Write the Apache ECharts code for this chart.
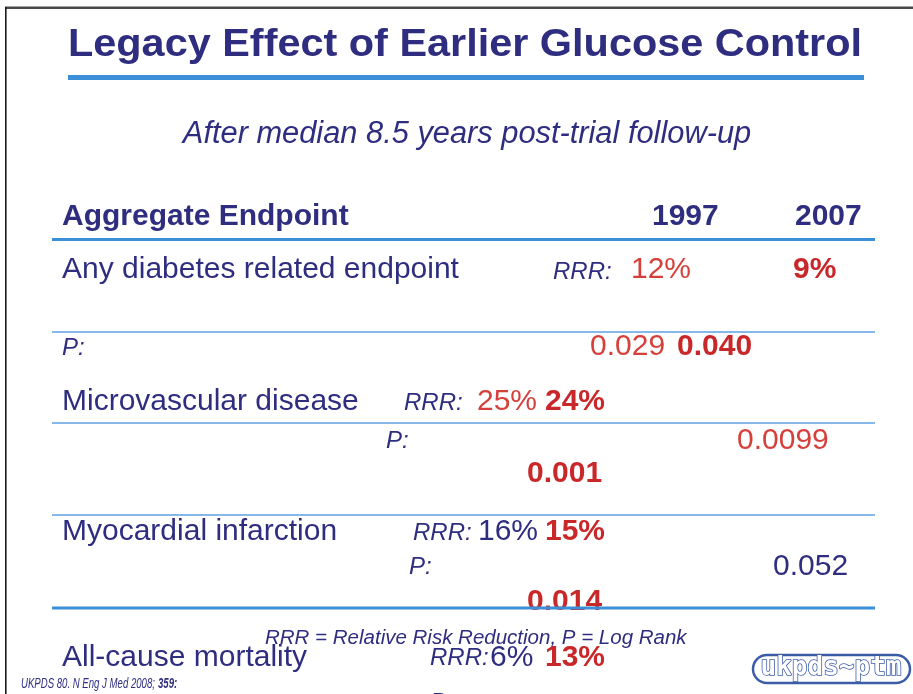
<!DOCTYPE html>
<html>
<head>
<meta charset="utf-8">
<style>
  html, body { margin: 0; padding: 0; background: #fff; }
  #chart { width: 913px; height: 694px; }
</style>
<script src="https://cdn.jsdelivr.net/npm/echarts@6/dist/echarts.min.js"></script>
</head>
<body>
<div id="chart"></div>
<script>
// ── Slide content ──
const title = 'Legacy Effect of Earlier Glucose Control';
const subtitle = 'After median 8.5 years post-trial follow-up';
const headers = ['Aggregate Endpoint', '1997', '2007'];
const endpoints = ['Any diabetes related endpoint', 'Microvascular disease', 'Myocardial infarction', 'All-cause mortality'];
const rrr1997 = ['12%', '25%', '16%', '6%'];
const rrr2007 = ['9%', '24%', '15%', '13%'];
const p1997 = ['0.029', '0.0099', '0.052'];
const p2007 = ['0.040', '0.001', '0.014'];
const footnote = 'RRR = Relative Risk Reduction, P = Log Rank';
const citation = 'UKPDS 80. N Eng J Med 2008; ';
const citationVol = '359:';
const logoText = 'ukpds~ptm';

// ── Layout (the slide's broken-flow positions) ──
// per endpoint row: name, RRR label, 1997 value, 2007 value  -> [x, y]
const rowLayout = [
  { name: [62, 269], rrr: [553, 271], v97: [631, 269], v07: [793, 269] },
  { name: [62, 401], rrr: [404, 402], v97: [477, 401], v07: [545, 401] },
  { name: [62, 531], rrr: [413, 532], v97: [478, 531], v07: [545, 531] },
  { name: [62, 657], rrr: [430, 657], v97: [490, 657], v07: [545, 657] },
];
const pLayout = [
  { lab: [62, 347], p97: [590, 346], p07: [677, 346] },
  { lab: [386, 440], p97: [737, 440], p07: [527, 473] },
  { lab: [409, 566], p97: [773, 566], p07: [527, 601] },
  { lab: [430, 702] },
];
const v97Color = ['#d6403a', '#d6403a', '#2e2d7f', '#2e2d7f'];
const p97Color = ['#d6403a', '#d6403a', '#2e2d7f'];
const ruleY = [[239.5, 3], [332, 1.5], [423, 1.5], [515, 1.5], [608, 3]];

const NAVY = '#2e2d7f';
const RED = '#c9282a';
const FONT = '"Liberation Sans", Arial, sans-serif';

function txt(text, x, y, font, fill, opts) {
  return Object.assign({
    type: 'text', x: x, y: y, z: 10,
    style: { text: text, font: font, fill: fill, align: 'left', verticalAlign: 'middle' },
  }, opts || {});
}

const g = [];

// frame edges
g.push({ type: 'rect', shape: { x: 5, y: 6.5, width: 910, height: 2.5 }, style: { fill: '#4a4a4a' } });
g.push({ type: 'rect', shape: { x: 5, y: 7, width: 1.6, height: 690 }, style: { fill: '#1a1a1a' } });

// title + bar
g.push(txt(title, 465, 46, 'bold 38px ' + FONT, NAVY, { scaleX: 1.09, style: { text: title, font: 'bold 38px ' + FONT, fill: NAVY, align: 'center', verticalAlign: 'middle' } }));
g.push({ type: 'rect', shape: { x: 68, y: 75, width: 796, height: 5 }, style: { fill: '#3b8fd6' } });

g.push(txt(subtitle, 467, 134, 'italic 30.8px ' + FONT, NAVY, { style: { text: subtitle, font: 'italic 30.8px ' + FONT, fill: NAVY, align: 'center', verticalAlign: 'middle' } }));

// header
g.push(txt(headers[0], 62, 217, 'bold 30px ' + FONT, NAVY));
g.push(txt(headers[1], 652, 217, 'bold 30px ' + FONT, NAVY));
g.push(txt(headers[2], 795, 217, 'bold 30px ' + FONT, NAVY));

// rules
ruleY.forEach(([y, w]) => {
  g.push({ type: 'rect', z: 20, shape: { x: 52, y: y - w / 2, width: 823, height: w }, style: { fill: w > 2 ? '#3b8fd6' : '#5ea2e2' } });
});

// endpoint rows
endpoints.forEach((name, i) => {
  const L = rowLayout[i];
  g.push(txt(name, L.name[0], L.name[1] + 1, '30px ' + FONT, NAVY));
  g.push(txt('RRR:', L.rrr[0], L.rrr[1] + 1, 'italic 24px ' + FONT, NAVY));
  g.push(txt(rrr1997[i], L.v97[0], L.v97[1] + 1, '30px ' + FONT, v97Color[i]));
  g.push(txt(rrr2007[i], L.v07[0], L.v07[1] + 1, 'bold 30px ' + FONT, RED));
});

// P rows
pLayout.forEach((L, i) => {
  g.push(txt('P:', L.lab[0], L.lab[1] + 1, 'italic 24px ' + FONT, NAVY));
  if (p1997[i]) g.push(txt(p1997[i], L.p97[0], L.p97[1] + 1, '30px ' + FONT, p97Color[i]));
  if (p2007[i]) g.push(txt(p2007[i], L.p07[0], L.p07[1] + 1, 'bold 30px ' + FONT, RED));
});

// footnote + citation
g.push(txt(footnote, 265, 638, 'italic 20.5px ' + FONT, NAVY, { z: 30 }));
g.push(txt(citation, 21, 684, 'italic 15px ' + FONT, NAVY, { scaleX: 0.64 }));
g.push(txt(citationVol, 158, 684, 'bold italic 15px ' + FONT, NAVY, { scaleX: 0.64 }));

// logo
g.push({ type: 'rect', shape: { x: 753, y: 655, width: 157, height: 28, r: 14 }, style: { fill: '#fff', stroke: '#3d5ca8', lineWidth: 2.5 } });
g.push(txt(logoText, 831, 668, 'bold 26px "DejaVu Sans Mono", monospace', '#fff', {
  style: { text: logoText, font: 'bold 26px "DejaVu Sans Mono", monospace', fill: '#fff', stroke: '#3d5ca8', lineWidth: 1.6, align: 'center', verticalAlign: 'middle' }
}));

const chart = echarts.init(document.getElementById('chart'));
chart.setOption({ backgroundColor: '#fff', animation: false, graphic: g });
</script>
</body>
</html>
